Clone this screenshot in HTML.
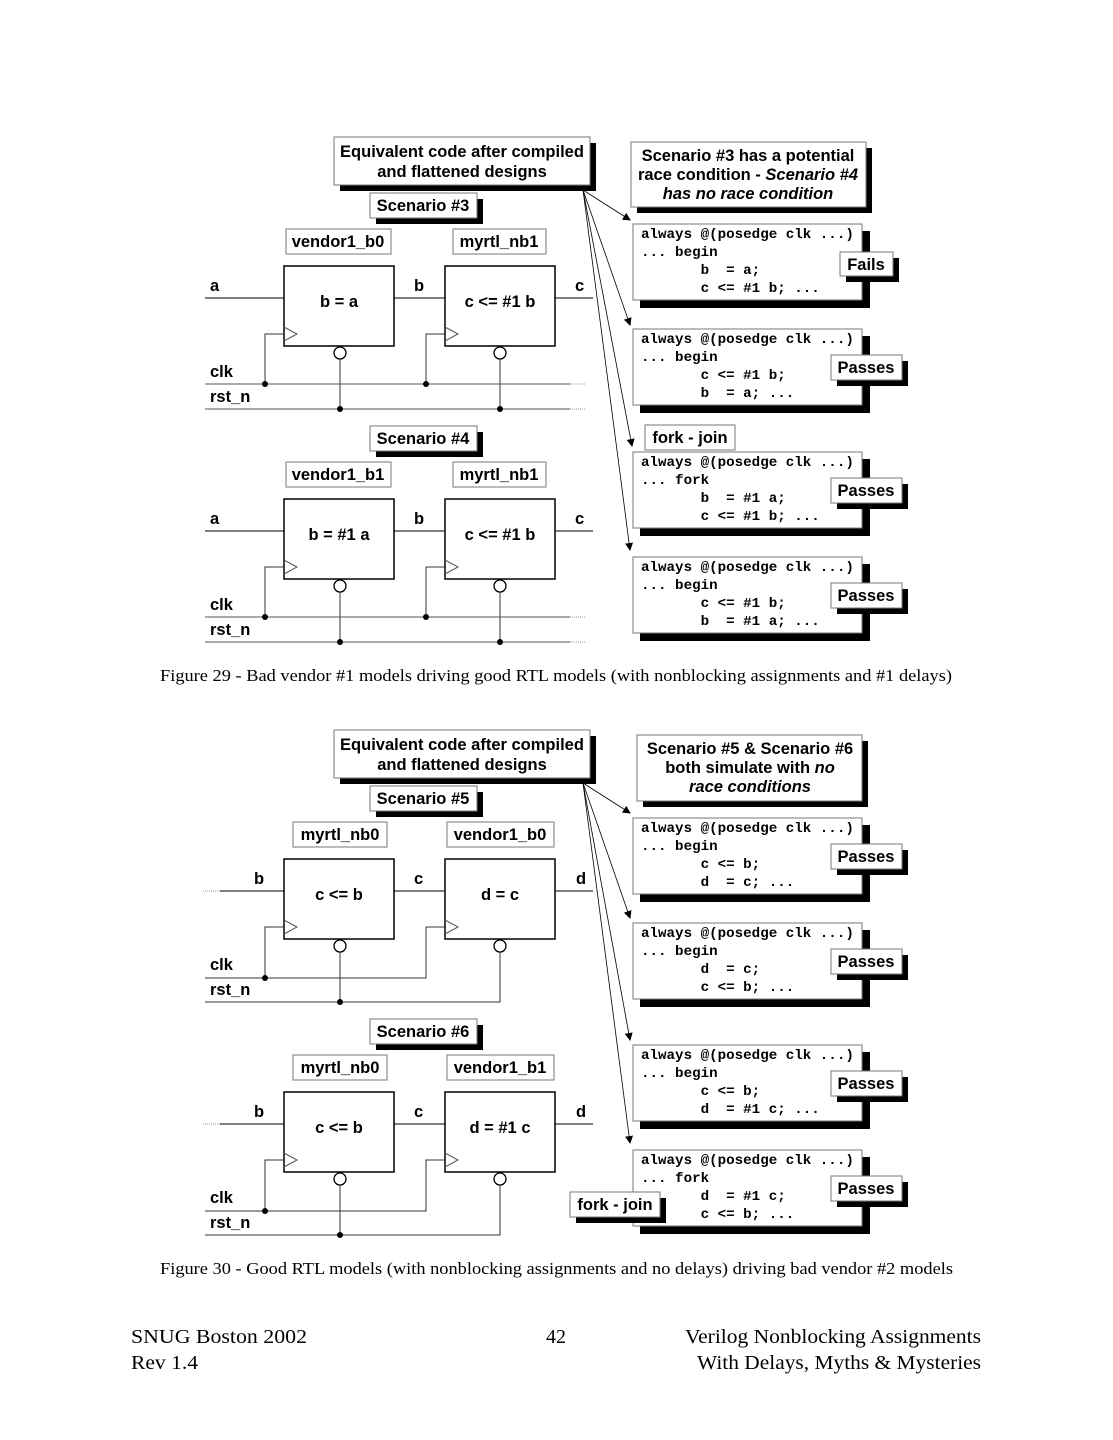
<!DOCTYPE html>
<html><head><meta charset="utf-8"><style>
html,body{margin:0;padding:0;background:#fff}
svg{display:block}
.s{font-family:"Liberation Sans",sans-serif;font-weight:bold;font-size:16.5px;fill:#000}
.m{font-family:"Liberation Mono",monospace;font-weight:bold;font-size:14.2px;fill:#000;white-space:pre}
.t{font-family:"Liberation Serif",serif;fill:#000}
</style></head><body>
<svg width="1113" height="1440" viewBox="0 0 1113 1440" xmlns="http://www.w3.org/2000/svg">
<defs>
<marker id="ah" markerWidth="8" markerHeight="8" refX="7" refY="4" orient="auto" markerUnits="userSpaceOnUse"><path d="M0,0 L8,4 L0,8 z" fill="#000"/></marker>
<g id="circ">
 <rect x="284" y="266" width="110" height="80" fill="#fff" stroke="#000" stroke-width="1.5"/>
 <rect x="445" y="266" width="110" height="80" fill="#fff" stroke="#000" stroke-width="1.5"/>
 <path d="M284,327 L297,334 L284,341" fill="none" stroke="#555"/>
 <path d="M445,327 L458,334 L445,341" fill="none" stroke="#555"/>
 <circle cx="340" cy="353" r="6" fill="#fff" stroke="#000" stroke-width="1.3"/>
 <circle cx="500" cy="353" r="6" fill="#fff" stroke="#000" stroke-width="1.3"/>
 <line x1="394" y1="298" x2="445" y2="298" stroke="#000"/>
 <line x1="555" y1="298" x2="593" y2="298" stroke="#000"/>
</g>
</defs>

<!-- ===== FIGURE 29 ===== -->
<rect x="340" y="143" width="256" height="48" fill="#000"/>
<rect x="334" y="137" width="256" height="48" fill="#fff" stroke="#777"/>
<text class="s" x="462" y="157" text-anchor="middle">Equivalent code after compiled</text>
<text class="s" x="462" y="177" text-anchor="middle">and flattened designs</text>

<rect x="376" y="199" width="107" height="25" fill="#000"/>
<rect x="370" y="193" width="107" height="25" fill="#fff" stroke="#777"/>
<text class="s" x="423" y="211" text-anchor="middle">Scenario #3</text>
<rect x="286" y="229" width="105" height="25" fill="#fff" stroke="#777"/>
<text class="s" x="338" y="247" text-anchor="middle">vendor1_b0</text>
<rect x="453" y="229" width="93" height="25" fill="#fff" stroke="#777"/>
<text class="s" x="499" y="247" text-anchor="middle">myrtl_nb1</text>

<use href="#circ"/>
<line x1="205" y1="298" x2="284" y2="298" stroke="#000"/>
<text class="s" x="210" y="291">a</text><text class="s" x="414" y="291">b</text><text class="s" x="575" y="291">c</text>
<text class="s" x="339" y="307" text-anchor="middle" font-size="15.5">b = a</text>
<text class="s" x="500" y="307" text-anchor="middle" font-size="15.5">c &lt;= #1 b</text>
<path d="M265,384 V334 H284 M426,384 V334 H445 M340,359 V409 M500,359 V409" fill="none" stroke="#333"/>
<line x1="205" y1="384" x2="570" y2="384" stroke="#555"/><line x1="570" y1="384" x2="586" y2="384" stroke="#999" stroke-dasharray="1,1"/>
<line x1="205" y1="409" x2="570" y2="409" stroke="#555"/><line x1="570" y1="409" x2="586" y2="409" stroke="#999" stroke-dasharray="1,1"/>
<circle cx="265" cy="384" r="3" fill="#000"/><circle cx="426" cy="384" r="3" fill="#000"/>
<circle cx="340" cy="409" r="3" fill="#000"/><circle cx="500" cy="409" r="3" fill="#000"/>
<text class="s" x="210" y="377">clk</text><text class="s" x="210" y="402">rst_n</text>

<!-- Scenario 4 -->
<rect x="376" y="432" width="107" height="25" fill="#000"/>
<rect x="370" y="426" width="107" height="25" fill="#fff" stroke="#777"/>
<text class="s" x="423" y="444" text-anchor="middle">Scenario #4</text>
<rect x="286" y="462" width="105" height="25" fill="#fff" stroke="#777"/>
<text class="s" x="338" y="480" text-anchor="middle">vendor1_b1</text>
<rect x="453" y="462" width="93" height="25" fill="#fff" stroke="#777"/>
<text class="s" x="499" y="480" text-anchor="middle">myrtl_nb1</text>
<g transform="translate(0,233)">
<use href="#circ"/>
<line x1="205" y1="298" x2="284" y2="298" stroke="#000"/>
<text class="s" x="210" y="291">a</text><text class="s" x="414" y="291">b</text><text class="s" x="575" y="291">c</text>
<text class="s" x="339" y="307" text-anchor="middle" font-size="15.5">b = #1 a</text>
<text class="s" x="500" y="307" text-anchor="middle" font-size="15.5">c &lt;= #1 b</text>
<path d="M265,384 V334 H284 M426,384 V334 H445 M340,359 V409 M500,359 V409" fill="none" stroke="#333"/>
<line x1="205" y1="384" x2="570" y2="384" stroke="#555"/><line x1="570" y1="384" x2="586" y2="384" stroke="#999" stroke-dasharray="1,1"/>
<line x1="205" y1="409" x2="570" y2="409" stroke="#555"/><line x1="570" y1="409" x2="586" y2="409" stroke="#999" stroke-dasharray="1,1"/>
<circle cx="265" cy="384" r="3" fill="#000"/><circle cx="426" cy="384" r="3" fill="#000"/>
<circle cx="340" cy="409" r="3" fill="#000"/><circle cx="500" cy="409" r="3" fill="#000"/>
<text class="s" x="210" y="377">clk</text><text class="s" x="210" y="402">rst_n</text>
</g>

<!-- right side fig29 -->
<rect x="637" y="148" width="235" height="65" fill="#000"/>
<rect x="631" y="142" width="235" height="65" fill="#fff" stroke="#777"/>
<text class="s" x="748" y="161" text-anchor="middle">Scenario #3 has a potential</text>
<text class="s" x="748" y="180" text-anchor="middle">race condition - <tspan font-style="italic">Scenario #4</tspan></text>
<text class="s" x="748" y="199" text-anchor="middle" font-style="italic">has no race condition</text>

<g>
<rect x="640" y="231" width="230" height="77" fill="#000"/>
<rect x="633" y="224" width="229" height="76" fill="#fff" stroke="#777"/>
<text class="m" x="641" y="238">always @(posedge clk ...)</text>
<text class="m" x="641" y="256">... begin</text>
<text class="m" x="641" y="274">       b  = a;</text>
<text class="m" x="641" y="292">       c &lt;= #1 b; ...</text>
<rect x="846" y="258" width="53" height="24" fill="#000"/>
<rect x="840" y="252" width="53" height="24" fill="#fff" stroke="#777"/>
<text class="s" x="866" y="270" text-anchor="middle">Fails</text>
</g>
<g transform="translate(0,105)">
<rect x="640" y="231" width="230" height="77" fill="#000"/>
<rect x="633" y="224" width="229" height="76" fill="#fff" stroke="#777"/>
<text class="m" x="641" y="238">always @(posedge clk ...)</text>
<text class="m" x="641" y="256">... begin</text>
<text class="m" x="641" y="274">       c &lt;= #1 b;</text>
<text class="m" x="641" y="292">       b  = a; ...</text>
<rect x="837" y="256" width="71" height="25" fill="#000"/>
<rect x="831" y="250" width="71" height="25" fill="#fff" stroke="#777"/>
<text class="s" x="866" y="268" text-anchor="middle">Passes</text>
</g>
<g transform="translate(0,228)">
<rect x="640" y="231" width="230" height="77" fill="#000"/>
<rect x="633" y="224" width="229" height="76" fill="#fff" stroke="#777"/>
<text class="m" x="641" y="238">always @(posedge clk ...)</text>
<text class="m" x="641" y="256">... fork</text>
<text class="m" x="641" y="274">       b  = #1 a;</text>
<text class="m" x="641" y="292">       c &lt;= #1 b; ...</text>
<rect x="837" y="256" width="71" height="25" fill="#000"/>
<rect x="831" y="250" width="71" height="25" fill="#fff" stroke="#777"/>
<text class="s" x="866" y="268" text-anchor="middle">Passes</text>
</g>
<rect x="645" y="425" width="90" height="25" fill="#fff" stroke="#777"/>
<text class="s" x="690" y="443" text-anchor="middle">fork - join</text>
<g transform="translate(0,333)">
<rect x="640" y="231" width="230" height="77" fill="#000"/>
<rect x="633" y="224" width="229" height="76" fill="#fff" stroke="#777"/>
<text class="m" x="641" y="238">always @(posedge clk ...)</text>
<text class="m" x="641" y="256">... begin</text>
<text class="m" x="641" y="274">       c &lt;= #1 b;</text>
<text class="m" x="641" y="292">       b  = #1 a; ...</text>
<rect x="837" y="256" width="71" height="25" fill="#000"/>
<rect x="831" y="250" width="71" height="25" fill="#fff" stroke="#777"/>
<text class="s" x="866" y="268" text-anchor="middle">Passes</text>
</g>
<g fill="none" stroke="#000" stroke-width="0.8" marker-end="url(#ah)">
<line x1="583" y1="190" x2="630" y2="220"/>
<line x1="583" y1="190" x2="630" y2="325"/>
<line x1="583" y1="190" x2="632" y2="446"/>
<line x1="583" y1="190" x2="630" y2="550"/>
</g>

<text class="t" x="160" y="681" font-size="17" textLength="792" lengthAdjust="spacingAndGlyphs">Figure 29 - Bad vendor #1 models driving good RTL models (with nonblocking assignments and #1 delays)</text>

<!-- ===== FIGURE 30 ===== -->
<g transform="translate(0,593)">
<rect x="340" y="143" width="256" height="48" fill="#000"/>
<rect x="334" y="137" width="256" height="48" fill="#fff" stroke="#777"/>
<text class="s" x="462" y="157" text-anchor="middle">Equivalent code after compiled</text>
<text class="s" x="462" y="177" text-anchor="middle">and flattened designs</text>
<rect x="376" y="199" width="107" height="25" fill="#000"/>
<rect x="370" y="193" width="107" height="25" fill="#fff" stroke="#777"/>
<text class="s" x="423" y="211" text-anchor="middle">Scenario #5</text>
<rect x="293" y="229" width="94" height="25" fill="#fff" stroke="#777"/>
<text class="s" x="340" y="247" text-anchor="middle">myrtl_nb0</text>
<rect x="447" y="229" width="107" height="25" fill="#fff" stroke="#777"/>
<text class="s" x="500" y="247" text-anchor="middle">vendor1_b0</text>
<use href="#circ"/>
<line x1="220" y1="298" x2="284" y2="298" stroke="#000"/><line x1="203" y1="298" x2="220" y2="298" stroke="#999" stroke-dasharray="1,1"/>
<text class="s" x="254" y="291">b</text><text class="s" x="414" y="291">c</text><text class="s" x="576" y="291">d</text>
<text class="s" x="339" y="307" text-anchor="middle" font-size="15.5">c &lt;= b</text>
<text class="s" x="500" y="307" text-anchor="middle" font-size="15.5">d = c</text>
<path d="M265,385 V334 H284 M205,385 H426 V334 H445 M340,359 V409 M205,409 H500 V359" fill="none" stroke="#333"/>
<circle cx="265" cy="385" r="3" fill="#000"/><circle cx="340" cy="409" r="3" fill="#000"/>
<text class="s" x="210" y="377">clk</text><text class="s" x="210" y="402">rst_n</text>

<rect x="376" y="432" width="107" height="25" fill="#000"/>
<rect x="370" y="426" width="107" height="25" fill="#fff" stroke="#777"/>
<text class="s" x="423" y="444" text-anchor="middle">Scenario #6</text>
<rect x="293" y="462" width="94" height="25" fill="#fff" stroke="#777"/>
<text class="s" x="340" y="480" text-anchor="middle">myrtl_nb0</text>
<rect x="447" y="462" width="107" height="25" fill="#fff" stroke="#777"/>
<text class="s" x="500" y="480" text-anchor="middle">vendor1_b1</text>
<g transform="translate(0,233)">
<use href="#circ"/>
<line x1="220" y1="298" x2="284" y2="298" stroke="#000"/><line x1="203" y1="298" x2="220" y2="298" stroke="#999" stroke-dasharray="1,1"/>
<text class="s" x="254" y="291">b</text><text class="s" x="414" y="291">c</text><text class="s" x="576" y="291">d</text>
<text class="s" x="339" y="307" text-anchor="middle" font-size="15.5">c &lt;= b</text>
<text class="s" x="500" y="307" text-anchor="middle" font-size="15.5">d = #1 c</text>
<path d="M265,385 V334 H284 M205,385 H426 V334 H445 M340,359 V409 M205,409 H500 V359" fill="none" stroke="#333"/>
<circle cx="265" cy="385" r="3" fill="#000"/><circle cx="340" cy="409" r="3" fill="#000"/>
<text class="s" x="210" y="377">clk</text><text class="s" x="210" y="402">rst_n</text>
</g>

<rect x="643" y="148" width="225" height="66" fill="#000"/>
<rect x="637" y="142" width="225" height="66" fill="#fff" stroke="#777"/>
<text class="s" x="750" y="161" text-anchor="middle">Scenario #5 &amp; Scenario #6</text>
<text class="s" x="750" y="180" text-anchor="middle">both simulate with <tspan font-style="italic">no</tspan></text>
<text class="s" x="750" y="199" text-anchor="middle" font-style="italic">race conditions</text>
</g>

<g transform="translate(0,594)">
<rect x="640" y="231" width="230" height="77" fill="#000"/>
<rect x="633" y="224" width="229" height="76" fill="#fff" stroke="#777"/>
<text class="m" x="641" y="238">always @(posedge clk ...)</text>
<text class="m" x="641" y="256">... begin</text>
<text class="m" x="641" y="274">       c &lt;= b;</text>
<text class="m" x="641" y="292">       d  = c; ...</text>
<rect x="837" y="256" width="71" height="25" fill="#000"/>
<rect x="831" y="250" width="71" height="25" fill="#fff" stroke="#777"/>
<text class="s" x="866" y="268" text-anchor="middle">Passes</text>
</g>
<g transform="translate(0,699)">
<rect x="640" y="231" width="230" height="77" fill="#000"/>
<rect x="633" y="224" width="229" height="76" fill="#fff" stroke="#777"/>
<text class="m" x="641" y="238">always @(posedge clk ...)</text>
<text class="m" x="641" y="256">... begin</text>
<text class="m" x="641" y="274">       d  = c;</text>
<text class="m" x="641" y="292">       c &lt;= b; ...</text>
<rect x="837" y="256" width="71" height="25" fill="#000"/>
<rect x="831" y="250" width="71" height="25" fill="#fff" stroke="#777"/>
<text class="s" x="866" y="268" text-anchor="middle">Passes</text>
</g>
<g transform="translate(0,821)">
<rect x="640" y="231" width="230" height="77" fill="#000"/>
<rect x="633" y="224" width="229" height="76" fill="#fff" stroke="#777"/>
<text class="m" x="641" y="238">always @(posedge clk ...)</text>
<text class="m" x="641" y="256">... begin</text>
<text class="m" x="641" y="274">       c &lt;= b;</text>
<text class="m" x="641" y="292">       d  = #1 c; ...</text>
<rect x="837" y="256" width="71" height="25" fill="#000"/>
<rect x="831" y="250" width="71" height="25" fill="#fff" stroke="#777"/>
<text class="s" x="866" y="268" text-anchor="middle">Passes</text>
</g>
<g transform="translate(0,926)">
<rect x="640" y="231" width="230" height="77" fill="#000"/>
<rect x="633" y="224" width="229" height="76" fill="#fff" stroke="#777"/>
<text class="m" x="641" y="238">always @(posedge clk ...)</text>
<text class="m" x="641" y="256">... fork</text>
<text class="m" x="641" y="274">       d  = #1 c;</text>
<text class="m" x="641" y="292">       c &lt;= b; ...</text>
<rect x="837" y="256" width="71" height="25" fill="#000"/>
<rect x="831" y="250" width="71" height="25" fill="#fff" stroke="#777"/>
<text class="s" x="866" y="268" text-anchor="middle">Passes</text>
</g>
<rect x="576" y="1198" width="90" height="25" fill="#000"/>
<rect x="570" y="1192" width="90" height="25" fill="#fff" stroke="#777"/>
<text class="s" x="615" y="1210" text-anchor="middle">fork - join</text>
<g fill="none" stroke="#000" stroke-width="0.8" marker-end="url(#ah)">
<line x1="583" y1="783" x2="630" y2="813"/>
<line x1="583" y1="783" x2="630" y2="918"/>
<line x1="583" y1="783" x2="630" y2="1040"/>
<line x1="583" y1="783" x2="630" y2="1143"/>
</g>

<text class="t" x="160" y="1274" font-size="17" textLength="793" lengthAdjust="spacingAndGlyphs">Figure 30 - Good RTL models (with nonblocking assignments and no delays) driving bad vendor #2 models</text>

<text class="t" x="131" y="1343" font-size="20" textLength="176" lengthAdjust="spacingAndGlyphs">SNUG Boston 2002</text>
<text class="t" x="131" y="1369" font-size="20" textLength="67" lengthAdjust="spacingAndGlyphs">Rev 1.4</text>
<text class="t" x="556" y="1343" font-size="20" text-anchor="middle">42</text>
<text class="t" x="685" y="1343" font-size="20" textLength="296" lengthAdjust="spacingAndGlyphs">Verilog Nonblocking Assignments</text>
<text class="t" x="697" y="1369" font-size="20" textLength="284" lengthAdjust="spacingAndGlyphs">With Delays, Myths &amp; Mysteries</text>
</svg>
</body></html>
